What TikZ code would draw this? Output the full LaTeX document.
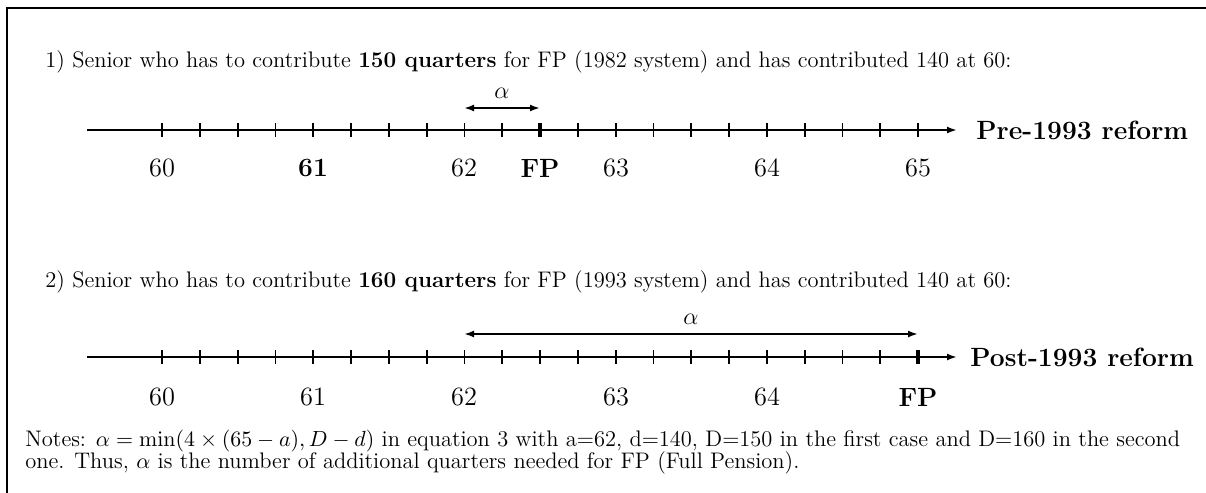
\documentclass[tikz,border=0pt]{standalone}
\usetikzlibrary{arrows.meta}
\begin{document}
\begin{tikzpicture}[x=0.5pt,y=-0.5pt,
  axis/.style={line width=1pt,-{Latex[length=5pt,width=3.5pt]}},
  tick/.style={line width=0.9pt},
  fptick/.style={line width=1.8pt},
  span/.style={line width=1pt,{Latex[length=5pt,width=3.5pt]}-{Latex[length=5pt,width=3.5pt]}},
  lab/.style={font=\fontsize{13.2}{15}\selectfont,inner sep=0pt},
  blab/.style={font=\fontsize{13.2}{15}\selectfont\bfseries,inner sep=0pt},
  alab/.style={font=\fontsize{12}{14}\selectfont,inner sep=0pt},
  txt/.style={font=\fontsize{11.25}{13}\selectfont,inner sep=0pt,anchor=base west},
  frame/.style={line width=0.6pt}]
\useasboundingbox (0,0) rectangle (1206,493);
\draw[frame] (7,493) -- (7,8) -- (1206,8);

% ---- case 1
\node[txt] (t1) at (45,67) {1) Senior who has to contribute \textbf{150 quarters} for FP (1982 system) and has contributed 140 at 60:};
\coordinate (a1s) at (87,130);
\coordinate (a1e) at (957,130);
\draw[axis] (a1s) -- (a1e);
\foreach \i in {0,...,20}{
  \ifnum\i=10
    \draw[fptick] ({162+37.8*\i},123) -- ({162+37.8*\i},137);
  \else
    \draw[tick] ({162+37.8*\i},123) -- ({162+37.8*\i},137);
  \fi
}
\node[blab,anchor=west] (r1) at (976,130) {Pre-1993 reform};
\node[lab] (l160) at (162,168) {60};
\node[blab] (l161) at (313,168) {61};
\node[lab] (l162) at (464,168) {62};
\node[blab] (lfp1) at (540,168) {FP};
\node[lab] (l163) at (616,168) {63};
\node[lab] (l164) at (767,168) {64};
\node[lab] (l165) at (918,168) {65};
\coordinate (s1a) at (464,108);
\coordinate (s1b) at (540,108);
\draw[span] (s1a) -- (s1b);
\node[alab] (al1) at (502,93) {$\alpha$};

% ---- case 2
\node[txt] (t2) at (45,287) {2) Senior who has to contribute \textbf{160 quarters} for FP (1993 system) and has contributed 140 at 60:};
\coordinate (a2s) at (87,357);
\coordinate (a2e) at (957,357);
\draw[axis] (a2s) -- (a2e);
\foreach \i in {0,...,20}{
  \ifnum\i=20
    \draw[fptick] ({162+37.8*\i},350) -- ({162+37.8*\i},364);
  \else
    \draw[tick] ({162+37.8*\i},350) -- ({162+37.8*\i},364);
  \fi
}
\node[blab,anchor=west] (r2) at (970,357) {Post-1993 reform};
\node[lab] (l260) at (162,397) {60};
\node[lab] (l261) at (313,397) {61};
\node[lab] (l262) at (464,397) {62};
\node[lab] (l263) at (616,397) {63};
\node[lab] (l264) at (767,397) {64};
\node[blab] (lfp2) at (918,397) {FP};
\coordinate (s2a) at (464,334);
\coordinate (s2b) at (918,334);
\draw[span] (s2a) -- (s2b);
\node[alab] (al2) at (691,319) {$\alpha$};

% ---- notes
\node[txt] (n1) at (25,446) {Notes: $\alpha=\min(4\times(65-a),D-d)$ in equation 3 with a=62, d=140, D=150 in the first case and D=160 in the second};
\node[txt] (n2) at (25,468) {one. Thus, $\alpha$ is the number of additional quarters needed for FP (Full Pension).};
\end{tikzpicture}
\end{document}
